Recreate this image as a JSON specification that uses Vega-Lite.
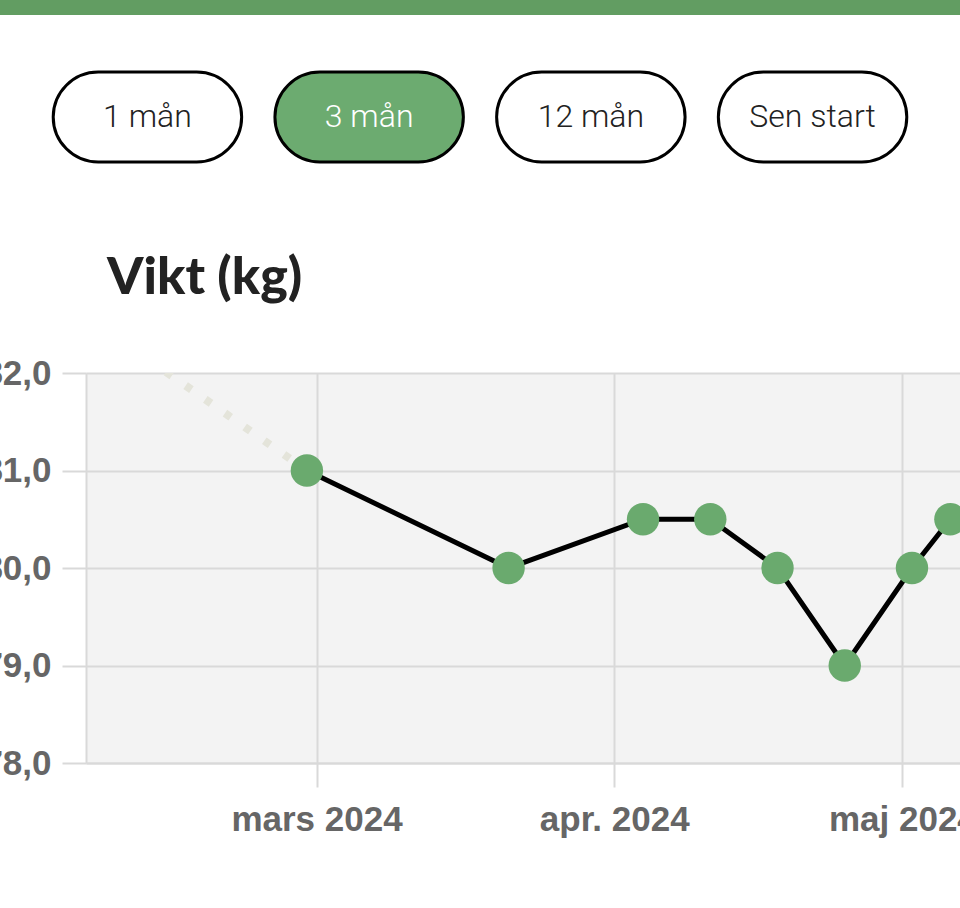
{
  "$schema": "https://vega.github.io/schema/vega-lite/v6.json",
  "autosize": "none",
  "padding": {"left": 0, "top": 0, "right": 960, "bottom": 908},
  "background": "white",
  "spacing": 57,
  "bounds": "flush",
  "config": {
    "view": {"stroke": null},
    "concat": {"spacing": 57}
  },
  "datasets": {
    "knappar": [
      {"knapp": "1 mån", "vald": false},
      {"knapp": "3 mån", "vald": true},
      {"knapp": "12 mån", "vald": false},
      {"knapp": "Sen start", "vald": false}
    ],
    "vikt": [
      {"datum": "2024-02-29", "kg": 81.0},
      {"datum": "2024-03-21", "kg": 80.0},
      {"datum": "2024-04-04", "kg": 80.5},
      {"datum": "2024-04-11", "kg": 80.5},
      {"datum": "2024-04-18", "kg": 80.0},
      {"datum": "2024-04-25", "kg": 79.0},
      {"datum": "2024-05-02", "kg": 80.0},
      {"datum": "2024-05-06", "kg": 80.5}
    ],
    "tidigare": [
      {"datum": "2024-01-31", "kg": 83.0},
      {"datum": "2024-02-29", "kg": 81.0}
    ],
    "tom": []
  },
  "vconcat": [
    {
      "width": 960,
      "height": 15,
      "view": {"fill": "#629d62", "stroke": null},
      "data": {"name": "tom"},
      "mark": "text"
    },
    {
      "width": 960,
      "height": 90,
      "data": {"name": "knappar"},
      "encoding": {
        "x": {
          "field": "knapp",
          "type": "nominal",
          "sort": null,
          "axis": null,
          "scale": {"paddingInner": 0.15, "paddingOuter": 0.24}
        }
      },
      "layer": [
        {
          "mark": {"type": "rect", "stroke": "black", "strokeWidth": 3, "cornerRadius": 45},
          "encoding": {
            "fill": {"condition": {"test": "datum.vald", "value": "#6cab70"}, "value": "white"}
          }
        },
        {
          "mark": {"type": "text", "font": "Roboto", "fontWeight": 300, "fontSize": 32, "baseline": "middle", "align": "center"},
          "encoding": {
            "text": {"field": "knapp"},
            "color": {"condition": {"test": "datum.vald", "value": "white"}, "value": "#222222"}
          }
        }
      ]
    },
    {
      "width": 960,
      "height": 97,
      "data": {"name": "tom"},
      "mark": "text"
    },
    {
      "bounds": "flush",
      "spacing": 0,
      "hconcat": [
        {
          "width": 86,
          "height": 390,
          "data": {"name": "tom"},
          "mark": "text"
        },
        {
          "width": 874,
          "height": 390,
          "view": {"fill": "#f3f3f3", "stroke": null},
          "title": {
            "text": "Vikt (kg)",
            "anchor": "start",
            "frame": "group",
            "font": "Lato",
            "fontWeight": 900,
            "fontSize": 52,
            "color": "#222222",
            "dx": 21,
            "offset": 10,
            "baseline": "alphabetic"
          },
          "encoding": {
            "x": {
              "field": "datum",
              "type": "temporal",
              "scale": {
                "type": "utc",
                "domain": [
                  {"year": 2024, "month": 2, "date": 6, "utc": true},
                  {"year": 2024, "month": 5, "date": 7, "utc": true}
                ],
                "nice": false
              },
              "axis": {
                "title": null,
                "values": [
                  {"year": 2024, "month": 3, "date": 1, "utc": true},
                  {"year": 2024, "month": 4, "date": 1, "utc": true},
                  {"year": 2024, "month": 5, "date": 1, "utc": true}
                ],
                "labelExpr": "['jan.','feb.','mars','apr.','maj','juni','juli','aug.','sep.','okt.','nov.','dec.'][utcmonth(datum.value)] + ' ' + utcyear(datum.value)",
                "grid": true,
                "gridColor": "#d9d9d9",
                "gridWidth": 2,
                "tickSize": 24,
                "tickColor": "#d9d9d9",
                "tickWidth": 2,
                "domainColor": "#d9d9d9",
                "domainWidth": 2,
                "labelFont": "Liberation Sans",
                "labelFontWeight": "bold",
                "labelFontSize": 35,
                "labelColor": "#666666",
                "labelPadding": 15,
                "labelFlush": false,
                "labelOverlap": false
              }
            },
            "y": {
              "field": "kg",
              "type": "quantitative",
              "scale": {"domain": [78, 82], "zero": false, "nice": false},
              "axis": {
                "title": null,
                "values": [78, 79, 80, 81, 82],
                "labelExpr": "replace(format(datum.value, '.1f'), '.', ',')",
                "grid": true,
                "gridColor": "#d9d9d9",
                "gridWidth": 2,
                "tickSize": 24,
                "tickColor": "#d9d9d9",
                "tickWidth": 2,
                "domainColor": "#d9d9d9",
                "domainWidth": 2,
                "labelFont": "Liberation Sans",
                "labelFontWeight": "bold",
                "labelFontSize": 35,
                "labelColor": "#666666",
                "labelPadding": 11,
                "labelFlush": false,
                "labelOverlap": false
              }
            }
          },
          "layer": [
            {
              "data": {"name": "tidigare"},
              "mark": {"type": "line", "color": "#e4e4da", "strokeWidth": 8, "strokeDash": [7, 17], "clip": true}
            },
            {
              "data": {"name": "vikt"},
              "mark": {"type": "line", "color": "black", "strokeWidth": 5}
            },
            {
              "data": {"name": "vikt"},
              "mark": {"type": "circle", "size": 1050, "color": "#6aaa6e", "opacity": 1}
            }
          ]
        }
      ]
    }
  ]
}
